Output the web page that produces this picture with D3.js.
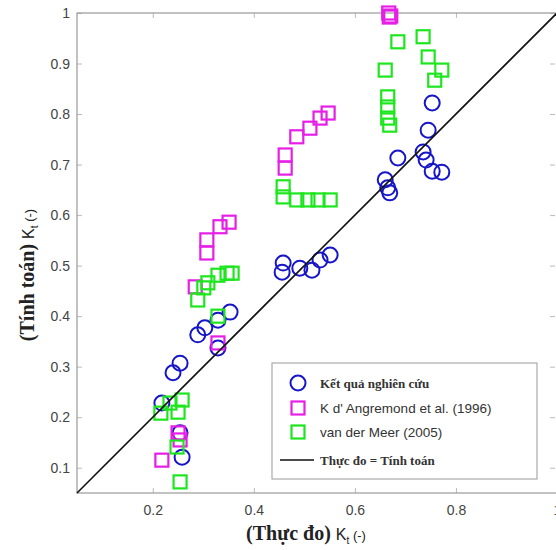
<!DOCTYPE html>
<meta charset="utf-8">
<script src="https://d3js.org/d3.v7.min.js"></script>
<style>
  body { margin: 0; background: #fff; }
  .tick text { font-family: "Liberation Sans", Arial, sans-serif; font-size: 14px; fill: #444; }
</style>
<div id="chart"></div>
<script>
  // Kết quả nghiên cứu (blue circles)
  var kqX = [0.258, 0.254, 0.218, 0.240, 0.254, 0.289, 0.303, 0.329, 0.329, 0.353,
             0.458, 0.456, 0.491, 0.515, 0.531, 0.551,
             0.660, 0.665, 0.669, 0.685, 0.735, 0.741, 0.753, 0.745, 0.753, 0.772];
  var kqY = [0.121, 0.169, 0.228, 0.288, 0.307, 0.363, 0.377, 0.337, 0.392, 0.408,
             0.505, 0.487, 0.495, 0.491, 0.511, 0.521,
             0.670, 0.654, 0.644, 0.713, 0.725, 0.709, 0.822, 0.768, 0.687, 0.685];

  // K d' Angremond et al. (1996) (magenta squares)
  var angX = [0.218, 0.250, 0.254, 0.329, 0.284, 0.307, 0.307, 0.333, 0.351,
              0.462, 0.462, 0.485, 0.511, 0.531, 0.547, 0.667, 0.671, 0.668];
  var angY = [0.115, 0.169, 0.155, 0.347, 0.458, 0.525, 0.551, 0.577, 0.586,
              0.693, 0.719, 0.755, 0.772, 0.792, 0.802, 1.0, 0.994, 0.992];

  // van der Meer (2005) (green squares)
  var meerX = [0.254, 0.248, 0.216, 0.234, 0.258, 0.250, 0.289, 0.301, 0.309, 0.329, 0.347, 0.357, 0.329,
               0.458, 0.458, 0.485, 0.507, 0.527, 0.551,
               0.685, 0.735, 0.745, 0.772, 0.758, 0.660, 0.665, 0.665, 0.665, 0.669];
  var meerY = [0.072, 0.141, 0.208, 0.228, 0.234, 0.210, 0.432, 0.456, 0.466, 0.481, 0.485, 0.485, 0.400,
               0.656, 0.636, 0.630, 0.630, 0.630, 0.630,
               0.943, 0.953, 0.913, 0.887, 0.867, 0.887, 0.834, 0.814, 0.792, 0.778];

  var xTicks = [0.2, 0.4, 0.6, 0.8, 1];
  var yTicks = [0.1, 0.2, 0.3, 0.4, 0.5, 0.6, 0.7, 0.8, 0.9, 1];
  var lineXY = [0.05, 1];

  var legendLabels = ["Kết quả nghiên cứu", "K d' Angremond et al. (1996)", "van der Meer (2005)", "Thực đo = Tính toán"];

  var W = 556, H = 550;
  var pL = 77, pR = 557, pT = 13, pB = 493;

  var svg = d3.select("#chart").append("svg")
    .attr("width", W).attr("height", H);

  var x = d3.scaleLinear().domain([0.05, 1]).range([pL, pR]);
  var y = d3.scaleLinear().domain([0.05, 1]).range([pB, pT]);

  var fmt = function(d) { return d === 1 ? "1" : d3.format(".1f")(d); };

  // axes (ticks inside, on all four sides)
  svg.append("g").attr("transform", "translate(0," + pB + ")")
    .call(d3.axisBottom(x).tickValues(xTicks).tickSize(-5).tickPadding(12).tickFormat(fmt));
  svg.append("g").attr("transform", "translate(" + pL + ",0)")
    .call(d3.axisLeft(y).tickValues(yTicks).tickSize(-5).tickPadding(7).tickFormat(fmt));
  svg.append("g").attr("transform", "translate(0," + pT + ")")
    .call(d3.axisTop(x).tickValues(xTicks).tickSize(-5).tickFormat(""));
  svg.append("g").attr("transform", "translate(" + (W - 1) + ",0)")
    .call(d3.axisRight(y).tickValues(yTicks).tickSize(-5).tickFormat(""));
  svg.selectAll(".domain").remove();
  svg.selectAll(".tick line").attr("stroke", "#bbb");

  // frame
  svg.append("rect").attr("x", pL).attr("y", pT)
    .attr("width", pR - pL).attr("height", pB - pT)
    .attr("fill", "none").attr("stroke", "#999").attr("stroke-width", 1.2);

  var kq = kqX.map(function(v, i) { return [v, kqY[i]]; });
  var ang = angX.map(function(v, i) { return [v, angY[i]]; });
  var meer = meerX.map(function(v, i) { return [v, meerY[i]]; });

  var blue = "#1616c8", mag = "#e61ee6", green = "#1ee61e";
  var s = 13;

  svg.append("g").selectAll("circle").data(kq).enter().append("circle")
    .attr("cx", function(d) { return x(d[0]); })
    .attr("cy", function(d) { return y(d[1]); })
    .attr("r", 7.5).attr("fill", "none").attr("stroke", blue).attr("stroke-width", 2);

  [[ang, mag], [meer, green]].forEach(function(p) {
    svg.append("g").selectAll("rect").data(p[0]).enter().append("rect")
      .attr("x", function(d) { return x(d[0]) - s / 2; })
      .attr("y", function(d) { return y(d[1]) - s / 2; })
      .attr("width", s).attr("height", s)
      .attr("fill", "none").attr("stroke", p[1]).attr("stroke-width", 2.2);
  });

  // diagonal line
  svg.append("line")
    .attr("x1", x(lineXY[0])).attr("y1", y(lineXY[0]))
    .attr("x2", x(lineXY[1])).attr("y2", y(lineXY[1]))
    .attr("stroke", "#111").attr("stroke-width", 1.6);

  // legend
  var lg = svg.append("g");
  lg.append("rect").attr("x", 272).attr("y", 363).attr("width", 265).attr("height", 116)
    .attr("fill", "#fff").attr("stroke", "#aaa").attr("stroke-width", 1.2);
  var rowY = [383, 408, 432, 460];
  lg.append("circle").attr("cx", 298).attr("cy", rowY[0]).attr("r", 7.5)
    .attr("fill", "none").attr("stroke", blue).attr("stroke-width", 2);
  lg.append("rect").attr("x", 298 - s / 2).attr("y", rowY[1] - s / 2).attr("width", s).attr("height", s)
    .attr("fill", "none").attr("stroke", mag).attr("stroke-width", 2.2);
  lg.append("rect").attr("x", 298 - s / 2).attr("y", rowY[2] - s / 2).attr("width", s).attr("height", s)
    .attr("fill", "none").attr("stroke", green).attr("stroke-width", 2.2);
  lg.append("line").attr("x1", 280).attr("x2", 314).attr("y1", rowY[3]).attr("y2", rowY[3])
    .attr("stroke", "#111").attr("stroke-width", 1.6);
  legendLabels.forEach(function(t, i) {
    var serif = (i === 0 || i === 3);
    lg.append("text").attr("x", 320).attr("y", rowY[i]).attr("dy", "0.35em")
      .style("font-family", serif ? "'Liberation Serif', 'Times New Roman', serif" : "'Liberation Sans', Arial, sans-serif")
      .style("font-size", serif ? "13px" : "13.5px")
      .style("font-weight", serif ? "bold" : "normal")
      .style("fill", "#333")
      .text(t);
  });

  // x label
  var xl = svg.append("text").attr("x", 306).attr("y", 540).attr("text-anchor", "middle").style("fill", "#222");
  xl.append("tspan").style("font-family", "'Liberation Serif', 'Times New Roman', serif")
    .style("font-size", "20px").style("font-weight", "bold").text("(Thực đo) ");
  xl.append("tspan").style("font-family", "'Liberation Sans', Arial, sans-serif").style("font-size", "16px").text("K");
  xl.append("tspan").attr("dy", 4).style("font-family", "'Liberation Sans', Arial, sans-serif").style("font-size", "10px").text("t");
  xl.append("tspan").attr("dy", -4).style("font-family", "'Liberation Sans', Arial, sans-serif").style("font-size", "13px").text(" (-)");

  // y label
  var yl = svg.append("text").attr("transform", "translate(34,275) rotate(-90)")
    .attr("text-anchor", "middle").style("fill", "#222");
  yl.append("tspan").style("font-family", "'Liberation Serif', 'Times New Roman', serif")
    .style("font-size", "20px").style("font-weight", "bold").text("(Tính toán) ");
  yl.append("tspan").style("font-family", "'Liberation Sans', Arial, sans-serif").style("font-size", "16px").text("K");
  yl.append("tspan").attr("dy", 4).style("font-family", "'Liberation Sans', Arial, sans-serif").style("font-size", "10px").text("t");
  yl.append("tspan").attr("dy", -4).style("font-family", "'Liberation Sans', Arial, sans-serif").style("font-size", "13px").text(" (-)");
</script>
